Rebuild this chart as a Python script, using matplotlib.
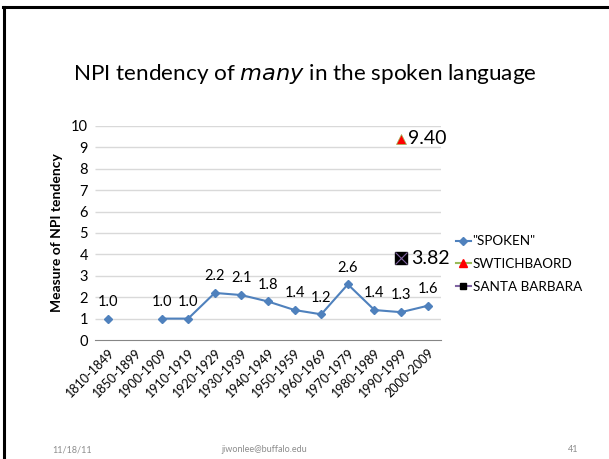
import matplotlib
matplotlib.use("Agg")
import matplotlib.pyplot as plt
import numpy as np
from matplotlib.lines import Line2D

categories = ["1810-1849", "1850-1899", "1900-1909", "1910-1919", "1920-1929",
              "1930-1939", "1940-1949", "1950-1959", "1960-1969", "1970-1979",
              "1980-1989", "1990-1999", "2000-2009"]
spoken = [1.0, np.nan, 1.0, 1.0, 2.2, 2.1, 1.8, 1.4, 1.2, 2.6, 1.4, 1.3, 1.6]
switchboard_cat = "1990-1999"
switchboard_val = 9.40
santa_cat = "1990-1999"
santa_val = 3.82
yticks = list(range(0, 11))

plt.rcParams['font.family'] = ['Lato', 'DejaVu Sans']

fig = plt.figure(figsize=(6.09, 4.59), dpi=100)
W, H = 609, 459
ax = fig.add_axes([95 / W, 1 - 340 / H, (441 - 95) / W, (340 - 126) / H])

x = np.arange(len(categories))
ax.hlines(yticks[1:], -0.5, len(categories) - 0.5, color="#D9D9D9", linewidth=1, zorder=0)
ax.plot(x, spoken, color="#4F81BD", marker="D", markersize=4, linewidth=1.5)
for xi, v in zip(x, spoken):
    if not np.isnan(v):
        ax.annotate(f"{v:.1f}", (xi, v), xytext=(0, 7), textcoords="offset points",
                    ha="center", va="bottom", fontsize=10.5, color="#000000")

xs = categories.index(switchboard_cat)
ax.plot([xs], [switchboard_val], marker="^", color="#FF0000", markeredgecolor="#9BBB59",
        markersize=7, markeredgewidth=0.5, linestyle="none")
ax.annotate(f"{switchboard_val:.2f}", (xs, switchboard_val), xytext=(5, 0),
            textcoords="offset points", ha="left", va="center", fontsize=14)

xb = categories.index(santa_cat)
ax.plot([xb], [santa_val], marker="s", color="#000000", markersize=8, linestyle="none")
ax.plot([xb], [santa_val], marker="x", color="#8064A2", markersize=8, markeredgewidth=0.8,
        linestyle="none")
ax.annotate(f"{santa_val:.2f}", (xb, santa_val), xytext=(7, 0),
            textcoords="offset points", ha="left", va="center", fontsize=14)

ax.set_xlim(-0.5, len(categories) - 0.5)
ax.set_ylim(0, 10)
ax.set_yticks(yticks)
ax.set_yticklabels([str(t) for t in yticks], fontsize=10.5)
ax.set_xticks(x)
ax.set_xticklabels(categories, rotation=45, ha="right", rotation_mode="anchor", fontsize=9)
ax.tick_params(axis="both", length=0, pad=5)
for s in ["top", "right", "left"]:
    ax.spines[s].set_visible(False)
ax.spines["bottom"].set_color("#868686")
ax.set_ylabel("Measure of NPI tendency", fontsize=10, fontweight="bold", labelpad=6)

handles = [
    Line2D([], [], color="#4F81BD", marker="D", markersize=4),
    Line2D([], [], color="#9BBB59", marker="^", markerfacecolor="#FF0000",
           markeredgecolor="#FF0000", markersize=6),
    Line2D([], [], color="#8064A2", marker="s", markerfacecolor="#000000",
           markeredgecolor="#000000", markersize=5),
]
fig.legend(handles, ['"SPOKEN"', "SWTICHBAORD", "SANTA BARBARA"],
           loc="center left", bbox_to_anchor=(449 / W, 1 - 264 / H), frameon=False,
           fontsize=9.7, handlelength=1.15, handletextpad=0.1, labelspacing=0.8,
           borderpad=0)

fig.text(0.5, 1 - 74 / H, "NPI tendency of $\\it{many}$ in the spoken language",
         ha="center", va="center", fontsize=16.2)

fig.text(52 / W, 1 - 450 / H, "11/18/11", fontsize=6.5, color="#8C8C8C", va="center")
fig.text(264 / W, 1 - 450 / H, "jiwonlee@buffalo.edu", fontsize=6.5, color="#8C8C8C",
         va="center", ha="center")
fig.text(573 / W, 1 - 450 / H, "41", fontsize=6.5, color="#8C8C8C", va="center", ha="center")

fig.add_artist(Line2D([3.5 / W, 3.5 / W], [0, 1 - 7 / H], color="#000000", linewidth=2.2))
fig.add_artist(Line2D([2.5 / W, 1], [1 - 7 / H, 1 - 7 / H], color="#000000", linewidth=2.2))

fig.savefig("out.png", dpi=100)
